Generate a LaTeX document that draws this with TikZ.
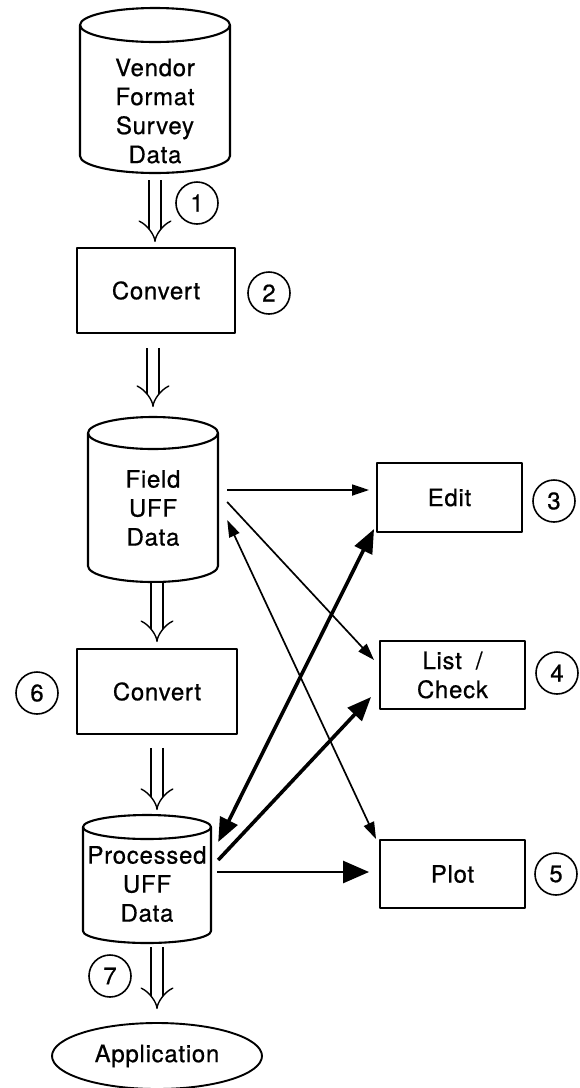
\documentclass[tikz,border=0pt]{standalone}
\usepackage{fontspec}
\setmainfont[LetterSpace=3,FakeBold=0.6]{TeX Gyre Heros}
\usetikzlibrary{arrows.meta}
\usetikzlibrary{shapes.geometric}

\tikzset{
  txt/.style={font=\fontsize{24}{29}\selectfont},
  box/.style={txt, draw, line width=1.9pt, minimum width=145pt, minimum height=69pt, inner sep=0pt, align=center},
  numcirc/.style={txt, draw, circle, line width=1.6pt, minimum size=42pt, inner sep=0pt},
  drumtext/.style={txt, align=center, inner sep=0pt},
  dblarr/.style={double, double distance=10.5pt, line width=1.4pt, -{Implies}},
  thinarr/.style={line width=1.7pt, -{Triangle[length=17pt,width=11pt]}},
  thinboth/.style={line width=1.7pt, {Triangle[length=17pt,width=11pt]}-{Triangle[length=17pt,width=11pt]}},
  thickarr/.style={line width=3.6pt, -{Triangle[length=24pt,width=19pt]}},
  thickboth/.style={line width=3.6pt, {Triangle[length=24pt,width=19pt]}-{Triangle[length=24pt,width=19pt]}},
}

\newcommand{\drum}[6]{%
  \draw[line width=2.1pt] (#2,#3+#6) ellipse [x radius=#5pt, y radius=#6pt];
  \draw[line width=2.1pt] (#2-#5,#3+#6) -- (#2-#5,#4-#6)
    arc [start angle=180, end angle=360, x radius=#5pt, y radius=#6pt] -- (#2+#5,#3+#6);
  \coordinate (#1-top) at (#2,#3);
  \coordinate (#1-bot) at (#2,#4);
}

\begin{document}
\begin{tikzpicture}[x=1pt,y=-1pt,line join=round]
        \useasboundingbox (0,0) rectangle (580,1088);

        \drum{vendor}{155}{8}{173}{75}{17}
        \node[drumtext, minimum width=150pt] (vendor) at (155,111) {Vendor\\Format\\Survey\\Data};

        \node[box, minimum width=158pt, minimum height=85pt] (conv1) at (156,290.5) {Convert};

        \drum{field}{153}{417}{582}{65}{16}
        \node[drumtext, minimum width=130pt] (field) at (153,508) {Field\\UFF\\Data};

        \node[box, minimum width=160pt, minimum height=85pt] (conv2) at (157,691.5) {Convert};

        \drum{proc}{147}{815}{943}{64}{12}
        \node[drumtext, minimum width=128pt] (proc) at (147,884) {Processed\\UFF\\Data};

        \node[txt, draw, ellipse, line width=1.9pt, minimum width=210pt, minimum height=66pt, inner sep=0pt] (app) at (157,1056) {Application};

        \node[box] (edit) at (449.5,497.5) {Edit};
        \node[box, minimum height=68pt] (list) at (452.5,675) {List\hspace{14pt}/\\Check};
        \node[box, minimum height=68pt] (plot) at (452.5,874) {Plot};

        \node[numcirc] (c1) at (197,203) {1};
        \node[numcirc] (c2) at (269,293) {2};
        \node[numcirc] (c3) at (554,501) {3};
        \node[numcirc] (c4) at (557,673) {4};
        \node[numcirc] (c5) at (556,874) {5};
        \node[numcirc] (c6) at (37,693) {6};
        \node[numcirc] (c7) at (110,976) {7};

        \draw[dblarr, shorten <=7pt, shorten >=5pt] (vendor-bot) -- (vendor-bot |- conv1.north);
        \draw[dblarr, shorten <=14pt, shorten >=10pt] (field-top |- conv1.south) -- (field-top);
        \draw[dblarr, shorten <=1pt, shorten >=6pt] (conv2.north |- field-bot) -- (conv2.north);
        \draw[dblarr, shorten <=13pt, shorten >=5pt] (conv2.south) -- (conv2.south |- proc-top);
        \draw[dblarr, shorten <=4pt, shorten >=13pt] (app.north |- proc-bot) -- (app.north);

        \draw[thinarr] ([xshift=9pt,yshift=18pt]field.east) -- ([xshift=-7pt,yshift=7.5pt]edit.west);
        \draw[thinarr] ([xshift=9pt,yshift=6pt]field.east) -- ([xshift=-5pt,yshift=15pt]list.west);
        \draw[thinboth] ([xshift=9pt,yshift=-12pt]field.east) -- ([xshift=-3pt]plot.north west);

        \draw[thickboth] ([xshift=7pt,yshift=42pt]proc.east) -- ([xshift=-2pt,yshift=4pt]edit.south west);
        \draw[thickarr] ([xshift=7pt,yshift=24pt]proc.east) -- ([xshift=-8pt,yshift=-22pt]list.west);
        \draw[line width=2.6pt, -{Triangle[length=26pt,width=22pt]}] ([xshift=6pt,yshift=12pt]proc.east) -- ([xshift=-10pt,yshift=2pt]plot.west);
    \end{tikzpicture}
\end{document}
